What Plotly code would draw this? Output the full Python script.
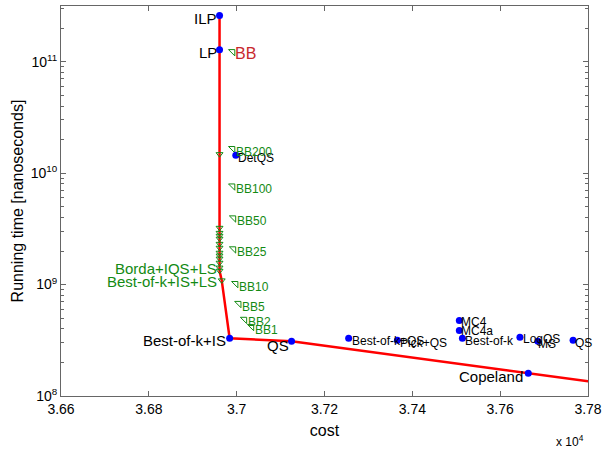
import math
import plotly.graph_objects as go

# ---------------- data ----------------
# Pareto frontier (red line)
frontier_cost = [36961, 36961, 36961, 36961, 36961, 36961, 36966, 36984, 37125, 37664, 38000]
frontier_time = [2.6e11, 1.28e11, 1.48e10, 3.23e9, 1.9e9, 1.33e9, 1.09e9, 3.3e8, 3.1e8, 1.6e8, 1.06e8]

# blue algorithms
alg_names = ["ILP", "LP", "DetQS", "Best-of-k+IS", "QS", "Best-of-k+QS", "Pick+QS",
             "MC4", "MC4a", "Best-of-k", "LogQS", "MS", "QS", "Copeland"]
alg_cost = [36961, 36961, 36998, 36984, 37125, 37255, 37366,
            37507, 37507, 37514, 37645, 37686, 37766, 37664]
alg_time = [2.6e11, 1.28e11, 1.45e10, 3.3e8, 3.1e8, 3.3e8, 3.16e8,
            4.77e8, 3.88e8, 3.3e8, 3.37e8, 3.1e8, 3.16e8, 1.6e8]

# local-search variants (green down triangles)
ls_cost = [36961, 36961, 36961, 36961, 36961, 36961, 36961, 36961, 36961,
           36961, 36961, 36961, 36961, 36966]
ls_time = [1.48e10, 3.23e9, 2.91e9, 2.74e9, 2.58e9, 2.32e9, 2.14e9, 1.93e9,
           1.82e9, 1.71e9, 1.57e9, 1.42e9, 1.33e9, 1.09e9]
ls_labels = ["Borda+IQS+LS", "Best-of-k+IS+LS"]
ls_label_time = [1.42e9, 1.09e9]

# branch and bound variants
bb_names = ["BB", "BB200", "BB100", "BB50", "BB25", "BB10", "BB5", "BB2", "BB1"]
bb_cost = [36991, 36991, 36991, 36993, 36993, 36998, 37005, 37018, 37034]
bb_time = [1.23e11, 1.66e10, 7.66e9, 3.96e9, 2.09e9, 1.02e9, 6.76e8, 4.87e8, 4.2e8]

x_ticks = [36600, 36800, 37000, 37200, 37400, 37600, 37800]
x_ticklabels = ["3.66", "3.68", "3.7", "3.72", "3.74", "3.76", "3.78"]
y_ticks = [1e8, 1e9, 1e10, 1e11]
y_ticklabels = ["10<sup>8</sup>", "10<sup>9</sup>", "10<sup>10</sup>", "10<sup>11</sup>"]

# ---------------- style ----------------
RED = "#ff0000"
GREEN = "#138a13"
BLUE = "#0000ff"
FONT = "Liberation Sans, Arial, sans-serif"

fig = go.Figure()

fig.add_trace(go.Scatter(x=frontier_cost, y=frontier_time, mode="lines",
                         line=dict(color=RED, width=2.5), hoverinfo="skip"))
fig.add_trace(go.Scatter(x=ls_cost, y=ls_time, mode="markers",
                         marker=dict(symbol="triangle-down-open", size=6,
                                     color=GREEN, line=dict(width=1, color=GREEN))))
fig.add_trace(go.Scatter(x=bb_cost, y=bb_time, mode="markers",
                         marker=dict(symbol="triangle-ne-open", size=7,
                                     color=GREEN, line=dict(width=1, color=GREEN))))
fig.add_trace(go.Scatter(x=alg_cost, y=alg_time, mode="markers",
                         marker=dict(symbol="circle", size=7, color=BLUE)))

# label placement (anchor, xshift, yshift, font size)
alg_style = {
    0: ("right", -1, -3, 15), 1: ("right", -1, -3, 15), 2: ("left", 0, -3, 12),
    3: ("right", -2, -2, 15), 4: ("right", -1, -4, 15), 5: ("left", 1, -3, 12),
    6: ("left", 1, -3, 12), 7: ("left", 0, -2, 12), 8: ("left", 0, -1, 12),
    9: ("left", 1, -3, 12), 10: ("left", 1, -2, 12), 11: ("left", -2, -3, 12),
    12: ("left", 0, -3, 12), 13: ("right", -3, -3, 15),
}
for i, name in enumerate(alg_names):
    anc, xs, ys, fs = alg_style[i]
    fig.add_annotation(x=alg_cost[i], y=math.log10(alg_time[i]), yref="y", xref="x",
                       text=name, showarrow=False, xanchor=anc, yanchor="middle",
                       xshift=xs, yshift=ys, font=dict(family=FONT, size=fs, color="black"))

for i, name in enumerate(bb_names):
    if i == 0:
        fs, col, xs, ys = 16, "#c8282d", 0, -2
    else:
        fs, col, xs, ys = 12, GREEN, 1, -3
    fig.add_annotation(x=bb_cost[i], y=math.log10(bb_time[i]), text=name, showarrow=False,
                       xanchor="left", yanchor="middle", xshift=xs, yshift=ys,
                       font=dict(family=FONT, size=fs, color=col))

for i, name in enumerate(ls_labels):
    fig.add_annotation(x=ls_cost[0], y=math.log10(ls_label_time[i]), text=name,
                       showarrow=False, xanchor="right", yanchor="middle",
                       xshift=-1, yshift=-1,
                       font=dict(family=FONT, size=15, color=GREEN))

fig.add_annotation(x=0.965, y=-0.09, xref="paper", yref="paper", text="x 10<sup>4</sup>",
                   showarrow=False, xanchor="center", yanchor="top",
                   font=dict(family=FONT, size=12, color="black"))

axis_common = dict(showgrid=False, zeroline=False, showline=True, linecolor="#666666",
                   linewidth=1, mirror="ticks", ticks="inside", ticklen=5,
                   tickcolor="#666666", tickfont=dict(family=FONT, size=14, color="black"))

fig.update_xaxes(range=[36600, 37800], tickvals=x_ticks, ticktext=x_ticklabels,
                 title=dict(text="cost", font=dict(family=FONT, size=16, color="black"),
                            standoff=9),
                 **axis_common)
fig.update_yaxes(type="log", range=[8, 11.5], tickvals=y_ticks, ticktext=y_ticklabels,
                 minor=dict(ticks="inside", ticklen=3, tickcolor="#666666",
                            tickvals=[m * 10 ** e for e in range(8, 12) for m in range(2, 10)]),
                 title=dict(text="Running time [nanoseconds]",
                            font=dict(family=FONT, size=16, color="black"), standoff=3),
                 **axis_common)

fig.update_layout(width=607, height=451, showlegend=False,
                  margin=dict(l=61, r=19, t=6, b=55),
                  plot_bgcolor="white", paper_bgcolor="white")

fig.write_html("out.html")
